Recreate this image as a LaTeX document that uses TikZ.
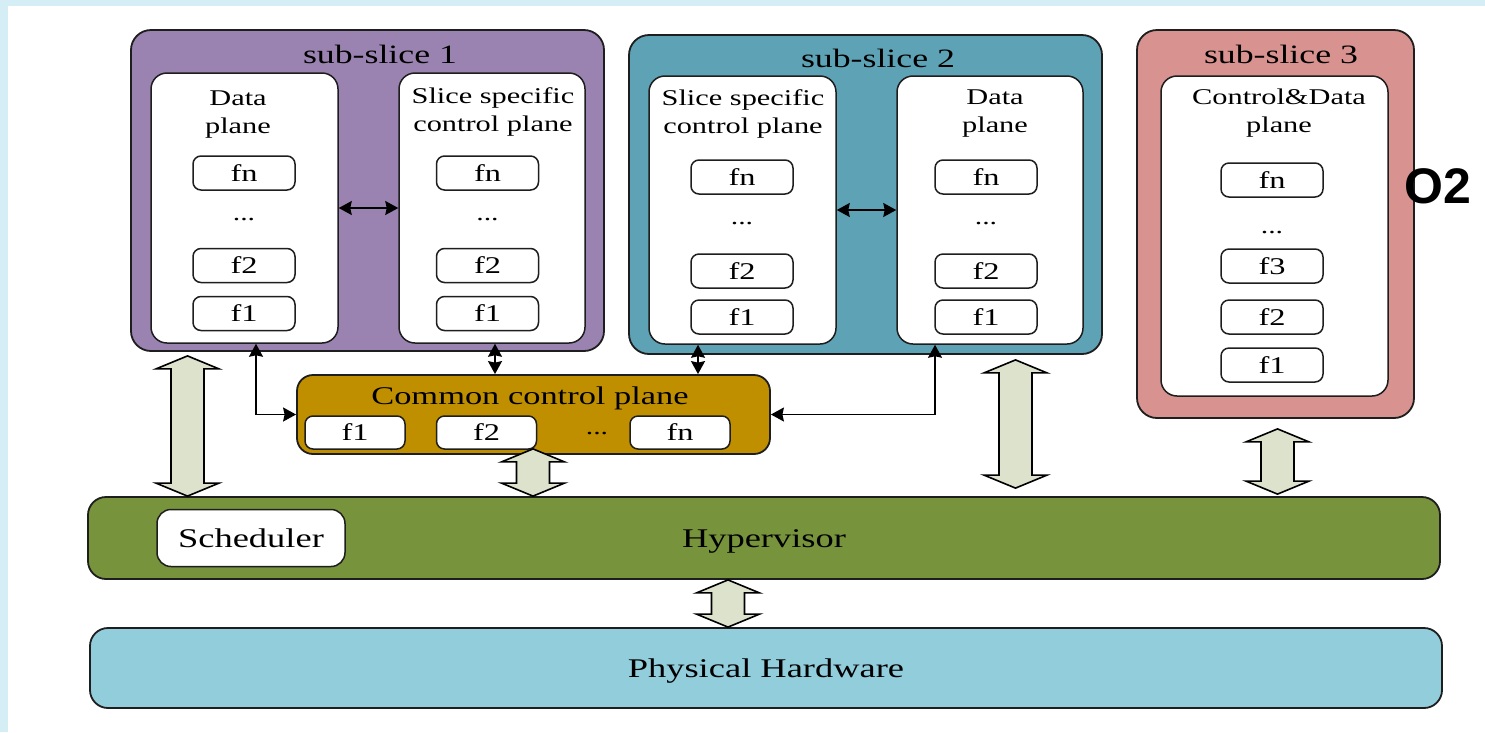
\documentclass[tikz,border=0pt]{standalone}
\usepackage{fontspec}
\setmainfont[FakeStretch=1.35]{Liberation Serif}
\newfontfamily\osans{Liberation Sans}
\usetikzlibrary{arrows.meta,calc}
\definecolor{bgband}{HTML}{D5EEF5}
\definecolor{sspurple}{HTML}{9A83B0}
\definecolor{ssteal}{HTML}{5EA2B5}
\definecolor{sspink}{HTML}{D8928F}
\definecolor{ccgold}{HTML}{BF8F00}
\definecolor{hypgreen}{HTML}{77933C}
\definecolor{hwblue}{HTML}{92CDDC}
\definecolor{arrfill}{HTML}{DCE2CC}
\definecolor{edge}{HTML}{1E1E1E}
\newcommand\bigdarrow[5]{%
  \path[bigarr] let \p1=(#2), \p2=(#4) in
  (#1pt,\y1-#3pt) -- (#1pt+31.5pt,\y1-#3pt-13pt) -- (#1pt+16.5pt,\y1-#3pt-13pt)
  -- (#1pt+16.5pt,\y2+#5pt+13pt) -- (#1pt+31.5pt,\y2+#5pt+13pt) -- (#1pt,\y2+#5pt)
  -- (#1pt-31.5pt,\y2+#5pt+13pt) -- (#1pt-16.5pt,\y2+#5pt+13pt)
  -- (#1pt-16.5pt,\y1-#3pt-13pt) -- (#1pt-31.5pt,\y1-#3pt-13pt) -- cycle;}
\begin{document}
\begin{tikzpicture}[x=1pt,y=-1pt,
  outerbox/.style={draw=edge, line width=1.8pt, rounded corners=20pt, minimum width=#1, inner sep=0pt},
  planebox/.style={draw=edge, fill=white, line width=1.5pt, rounded corners=16pt, inner sep=0pt},
  fnbox/.style={draw=edge, fill=white, line width=1.5pt, rounded corners=8pt, minimum width=102pt, minimum height=34pt, inner sep=0pt, font=\fontsize{24}{28}\selectfont},
  dotslbl/.style={inner sep=0pt, font=\fontsize{22}{26}\selectfont},
  titlelbl/.style={inner sep=0pt, font=\fontsize{26.5}{30}\selectfont},
  planelbl/.style={inner sep=0pt, align=center, font=\fontsize{22.5}{28}\selectfont},
  biglbl/.style={inner sep=0pt, font=\fontsize{27}{32}\selectfont},
  thinarr/.style={line width=1.6pt, draw=black, arrows={Stealth[length=13pt,width=14pt,inset=1.5pt]-Stealth[length=13pt,width=14pt,inset=1.5pt]}},
  bigarr/.style={draw=black, line width=1.6pt, fill=arrfill, line join=miter}
]
\useasboundingbox (0,0) rectangle (1485,732);
\fill[bgband] (0,0) rectangle (1485,732);
\fill[white] (8,6) rectangle (1485,732);

% sub-slice 1
\node[outerbox=473pt, minimum height=321pt, fill=sspurple] (s1) at (367.5,190.5) {};
\node[titlelbl] (s1t) at (380,54) {sub-slice 1};
\node[planebox, minimum width=187pt, minimum height=270pt] (s1dp) at (244.5,208) {};
\node[planebox, minimum width=186pt, minimum height=270pt] (s1cp) at (492,208) {};
\node[planelbl] (s1dpl) at (238,114.5) {Data\\plane};
\node[planelbl] (s1cpl) at (493,111.5) {Slice specific\\control plane};
\node[fnbox] (s1dfn) at (244,173) {fn};
\node[dotslbl] (s1dd) at (244,220) {...};
\node[fnbox] (s1df2) at (244,265.5) {f2};
\node[fnbox] (s1df1) at (244,313.5) {f1};
\node[fnbox] (s1cfn) at (487.5,173) {fn};
\node[dotslbl] (s1cd) at (487.5,220) {...};
\node[fnbox] (s1cf2) at (487.5,265.5) {f2};
\node[fnbox] (s1cf1) at (487.5,313.5) {f1};

% sub-slice 2
\node[outerbox=473pt, minimum height=319pt, fill=ssteal] (s2) at (865.5,194.5) {};
\node[titlelbl] (s2t) at (878,58) {sub-slice 2};
\node[planebox, minimum width=187pt, minimum height=268pt] (s2cp) at (742.5,210) {};
\node[planebox, minimum width=186pt, minimum height=268pt] (s2dp) at (990,210) {};
\node[planelbl] (s2cpl) at (743,114) {Slice specific\\control plane};
\node[planelbl] (s2dpl) at (995,114) {Data\\plane};
\node[fnbox] (s2cfn) at (742,177) {fn};
\node[dotslbl] (s2cd) at (742,224) {...};
\node[fnbox] (s2cf2) at (742,271) {f2};
\node[fnbox] (s2cf1) at (742,317) {f1};
\node[fnbox] (s2dfn) at (986,177) {fn};
\node[dotslbl] (s2dd) at (986,224) {...};
\node[fnbox] (s2df2) at (986,271) {f2};
\node[fnbox] (s2df1) at (986,317) {f1};

% sub-slice 3
\node[outerbox=277pt, minimum height=388pt, fill=sspink] (s3) at (1275.5,224) {};
\node[titlelbl] (s3t) at (1281,54) {sub-slice 3};
\node[planebox, minimum width=227pt, minimum height=320pt] (s3cd) at (1274.5,236) {};
\node[planelbl] (s3cdl) at (1279,113) {Control\&Data\\plane};
\node[fnbox] (s3fn) at (1272,180) {fn};
\node[dotslbl] (s3d) at (1272,233) {...};
\node[fnbox] (s3f3) at (1272,266) {f3};
\node[fnbox] (s3f2) at (1272,317) {f2};
\node[fnbox] (s3f1) at (1272,365) {f1};

\node[inner sep=0pt, font=\osans\bfseries\fontsize{50}{56}\selectfont] (o2) at (1438,186) {O2};

% common control plane
\node[outerbox=473pt, minimum height=79pt, fill=ccgold, rounded corners=16pt] (ccp) at (533.5,414.5) {};
\node[inner sep=0pt, font=\fontsize{25.5}{30}\selectfont] (ccpt) at (530,398) {Common control plane};
\node[fnbox, minimum width=100pt, minimum height=33pt] (ccf1) at (355,432.5) {f1};
\node[fnbox, minimum width=100pt, minimum height=33pt] (ccf2) at (486.5,432.5) {f2};
\node[dotslbl] (ccd) at (597,434) {...};
\node[fnbox, minimum width=100pt, minimum height=33pt] (ccfn) at (680,432.5) {fn};

% hypervisor and hardware
\node[outerbox=1352pt, minimum height=82pt, fill=hypgreen, rounded corners=18pt] (hyp) at (764,538) {};
\node[biglbl] (hypt) at (764,541) {Hypervisor};
\node[draw=edge, fill=white, line width=1.5pt, rounded corners=14pt, minimum width=188pt, minimum height=57pt, inner sep=0pt, font=\fontsize{27}{32}\selectfont] (sched) at (251,538) {Scheduler};
\node[outerbox=1352pt, minimum height=80pt, fill=hwblue, rounded corners=18pt] (phys) at (766,668) {};
\node[biglbl] (physt) at (766,671) {Physical Hardware};

% thin arrows
\draw[thinarr] (s1dp.east) -- (s1cp.west);
\draw[thinarr] (s2cp.east) -- (s2dp.west);
\draw[thinarr] ([xshift=11.5pt]s1dp.south) |- (ccp.west);
\draw[thinarr] ([xshift=3pt]s1cp.south) -- ([xshift=3pt]s1cp.south |- ccp.north);
\draw[thinarr] ([xshift=-44.5pt]s2cp.south) -- ([xshift=-44.5pt]s2cp.south |- ccp.north);
\draw[thinarr] (ccp.east) -| ([xshift=-55pt]s2dp.south);

% big double arrows
\bigdarrow{187.5}{s1.south}{4}{hyp.north}{0}
\bigdarrow{533}{ccp.south}{-6}{hyp.north}{0}
\bigdarrow{1015.5}{s2.south}{5}{hyp.north}{8}
\bigdarrow{1277.5}{s3.south}{10}{hyp.north}{2}
\bigdarrow{728}{hyp.south}{0}{phys.north}{0}
\end{tikzpicture}
\end{document}
